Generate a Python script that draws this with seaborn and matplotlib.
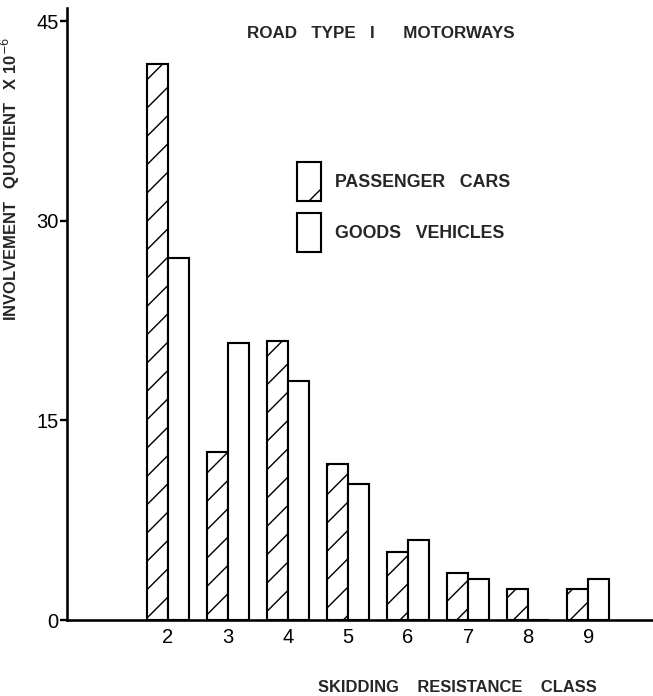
import pandas as pd
import matplotlib
matplotlib.use('Agg')
import matplotlib.pyplot as plt
import matplotlib.patches as mpatches
import seaborn as sns

# Dados
classes = ['2', '3', '4', '5', '6', '7', '8', '9']
passenger_cars = [41.8, 12.6, 21.0, 11.7, 5.1, 3.5, 2.3, 2.3]
goods_vehicles = [27.2, 20.8, 18.0, 10.2, 6.0, 3.1, 0.0, 3.1]
series_labels = ['PASSENGER   CARS', 'GOODS   VEHICLES']
y_ticks = [0, 15, 30, 45]

df = pd.DataFrame({
    'classe': classes * 2,
    'valor': passenger_cars + goods_vehicles,
    'veiculo': [series_labels[0]] * len(classes) + [series_labels[1]] * len(classes),
})

sns.set_style('white')
plt.rcParams['font.family'] = ['Liberation Sans', 'DejaVu Sans']
plt.rcParams['hatch.linewidth'] = 0.6
plt.rcParams['hatch.color'] = 'black'

DPI = 170
W, H = 653, 696
fig = plt.figure(figsize=(W / DPI, H / DPI), dpi=DPI)
ax = fig.add_axes([67 / W, 76 / H, (W - 67) / W, 612 / H])

sns.barplot(data=df, x='classe', y='valor', hue='veiculo', order=classes,
            palette=['white', 'white'], edgecolor='black', linewidth=0.9,
            width=0.7, gap=0, legend=False, ax=ax)

for barra in ax.containers[0]:
    barra.set_hatch('//')

ax.set_xlim(-1.68, 8.08)
ax.set_ylim(0, 46)
ax.set_yticks(y_ticks)
ax.set_yticklabels([str(t) for t in y_ticks])

sns.despine(ax=ax)
for lado in ['left', 'bottom']:
    ax.spines[lado].set_linewidth(1.1)
    ax.spines[lado].set_color('black')

ax.tick_params(axis='y', direction='out', length=3, width=1.0, pad=0.5,
               labelsize=8.5, colors='black', left=True)
ax.tick_params(axis='x', length=0, pad=3.2, labelsize=8.5, colors='black')

ax.set_xlabel('SKIDDING    RESISTANCE    CLASS', fontsize=7, fontweight='bold')
ax.xaxis.set_label_coords(0.667, -0.098)
ax.set_ylabel('INVOLVEMENT   QUOTIENT   X 10$^{-6}$', fontsize=7, fontweight='bold')
ax.yaxis.set_label_coords(-0.077, 0.72)

fig.text(381 / W, 1 - 33 / H, 'ROAD   TYPE   I      MOTORWAYS',
         ha='center', va='center', fontsize=7.2, fontweight='bold')

# Legenda
handles = [mpatches.Patch(facecolor='white', edgecolor='black', linewidth=0.9, hatch='/'),
           mpatches.Patch(facecolor='white', edgecolor='black', linewidth=0.9)]
leg = ax.legend(handles, series_labels, loc='upper left',
                bbox_to_anchor=(297 / W, 1 - 162 / H), bbox_transform=fig.transFigure,
                frameon=False, borderpad=0, borderaxespad=0,
                handlelength=1.36, handleheight=3.0, labelspacing=0.68,
                handletextpad=0.8, prop={'size': 7.5, 'weight': 'bold'})

plt.savefig('out.png', dpi=DPI)
